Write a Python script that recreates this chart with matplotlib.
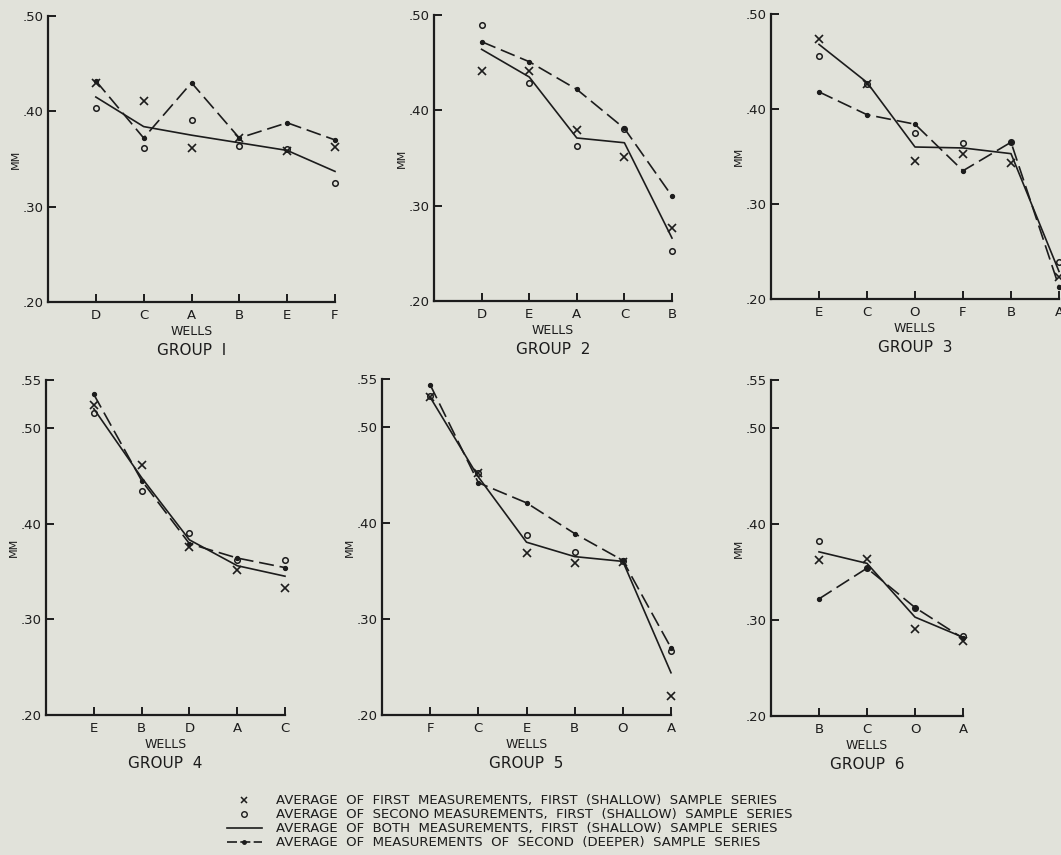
import matplotlib
matplotlib.use("Agg")
import matplotlib.pyplot as plt
from matplotlib.lines import Line2D
from matplotlib.ticker import FuncFormatter

# wells in plotting order for each group
wells = [
    ["D", "C", "A", "B", "E", "F"],
    ["D", "E", "A", "C", "B"],
    ["E", "C", "O", "F", "B", "A"],
    ["E", "B", "D", "A", "C"],
    ["F", "C", "E", "B", "O", "A"],
    ["B", "C", "O", "A"],
]

# x  average of first measurements, first (shallow) series
first = [
    [0.430, 0.411, 0.362, 0.372, 0.358, 0.363],
    [0.441, 0.441, 0.379, 0.351, 0.277],
    [0.474, 0.426, 0.345, 0.353, 0.343, 0.223],
    [0.524, 0.461, 0.376, 0.351, 0.333],
    [0.531, 0.452, 0.369, 0.358, 0.359, 0.220],
    [0.363, 0.364, 0.291, 0.278],
]

# o  average of second measurements, first (shallow) series
second = [
    [0.403, 0.362, 0.391, 0.364, 0.361, 0.325],
    [0.490, 0.429, 0.363, 0.380, 0.252],
    [0.456, 0.426, 0.375, 0.364, 0.365, 0.239],
    [0.515, 0.434, 0.390, 0.362, 0.362],
    [0.532, 0.452, 0.387, 0.370, 0.360, 0.267],
    [0.382, 0.354, 0.313, 0.283],
]

# solid  average of both measurements, first (shallow) series
both = [
    [0.415, 0.384, 0.375, 0.367, 0.359, 0.337],
    [0.464, 0.435, 0.371, 0.366, 0.266],
    [0.468, 0.428, 0.360, 0.359, 0.353, 0.229],
    [0.520, 0.448, 0.383, 0.356, 0.345],
    [0.531, 0.448, 0.380, 0.365, 0.360, 0.244],
    [0.371, 0.359, 0.303, 0.282],
]

# dash-dot  average of measurements of second (deeper) series
deeper = [
    [0.432, 0.372, 0.430, 0.372, 0.388, 0.370],
    [0.472, 0.451, 0.422, 0.381, 0.310],
    [0.418, 0.394, 0.384, 0.335, 0.365, 0.213],
    [0.535, 0.445, 0.379, 0.364, 0.354],
    [0.544, 0.442, 0.421, 0.389, 0.361, 0.270],
    [0.322, 0.354, 0.313, 0.281],
]

group_names = ["GROUP  I", "GROUP  2", "GROUP  3", "GROUP  4", "GROUP  5", "GROUP  6"]
top_ticks = [0.20, 0.30, 0.40, 0.50]
bottom_ticks = [0.20, 0.30, 0.40, 0.50, 0.55]

legend_labels = [
    "AVERAGE  OF  FIRST  MEASUREMENTS,  FIRST  (SHALLOW)  SAMPLE  SERIES",
    "AVERAGE  OF  SECONO MEASUREMENTS,  FIRST  (SHALLOW)  SAMPLE  SERIES",
    "AVERAGE  OF  BOTH  MEASUREMENTS,  FIRST  (SHALLOW)  SAMPLE  SERIES",
    "AVERAGE  OF  MEASUREMENTS  OF  SECOND  (DEEPER)  SAMPLE  SERIES",
]

W, H = 1061, 855
bg = "#e1e2da"
ink = "#1c1c1c"

# axes boxes in pixels: left, top, right, bottom
boxes = [
    (48, 16, 335, 302),
    (434, 15, 672, 301),
    (771, 14, 1059, 299),
    (46, 380, 285, 715),
    (382, 379, 671, 715),
    (771, 380, 963, 716),
]

plt.rcParams["font.family"] = ["DejaVu Sans"]
fig = plt.figure(figsize=(W / 100, H / 100), dpi=100, facecolor=bg)

fmt = FuncFormatter(lambda v, p: f"{v:.2f}"[1:])
dash = (0, (9, 3.5))

for i, (l, t, r, b) in enumerate(boxes):
    ax = fig.add_axes([l / W, 1 - b / H, (r - l) / W, (b - t) / H])
    ax.set_facecolor(bg)
    n = len(wells[i])
    xs = list(range(1, n + 1))

    ax.plot(xs, both[i], color=ink, lw=1.2, clip_on=False)
    ax.plot(xs, deeper[i], color=ink, lw=1.2, linestyle=dash, marker="o",
            markersize=2.8, clip_on=False)
    ax.plot(xs, first[i], linestyle="none", marker="x", color=ink,
            markersize=6, mew=1.2, clip_on=False)
    ax.plot(xs, second[i], linestyle="none", marker="o", markerfacecolor="none",
            markeredgecolor=ink, markersize=4, mew=1.1, clip_on=False)

    ticks = top_ticks if i < 3 else bottom_ticks
    ax.set_ylim(0.20, ticks[-1])
    ax.set_xlim(0, n)
    ax.set_yticks(ticks)
    ax.yaxis.set_major_formatter(fmt)
    ax.set_xticks(xs)
    ax.set_xticklabels(wells[i])

    for side in ["top", "right"]:
        ax.spines[side].set_visible(False)
    for side in ["left", "bottom"]:
        ax.spines[side].set_linewidth(1.6)
        ax.spines[side].set_color(ink)

    ax.tick_params(axis="both", direction="in", length=6, width=1.4, color=ink,
                   labelcolor=ink, labelsize=9.5)
    ax.tick_params(axis="x", pad=5)
    ax.tick_params(axis="y", pad=3)
    ax.set_ylabel("MM", fontsize=8, color=ink, va="center")
    ax.yaxis.set_label_coords(-32 / (r - l), 0.5)

    ax.annotate("WELLS", xy=(0.5, 0), xycoords="axes fraction", xytext=(0, -21),
                textcoords="offset points", ha="center", va="center",
                fontsize=9, color=ink)
    ax.annotate(group_names[i], xy=(0.5, 0), xycoords="axes fraction", xytext=(0, -35),
                textcoords="offset points", ha="center", va="center",
                fontsize=11, color=ink)

handles = [
    Line2D([], [], linestyle="none", marker="x", color=ink, markersize=4.5, mew=1.1),
    Line2D([], [], linestyle="none", marker="o", markerfacecolor="none",
           markeredgecolor=ink, markersize=4, mew=1.0),
    Line2D([], [], color=ink, lw=1.2),
    Line2D([], [], color=ink, lw=1.2, linestyle=(0, (6, 2)), marker="o", markersize=2.5,
           markevery=[1]),
]
fig.legend(handles, legend_labels, loc="upper left", bbox_to_anchor=(222 / W, 1 - 789 / H),
           frameon=False, fontsize=9.5, handlelength=2.6, handletextpad=1.1,
           labelspacing=0.08, labelcolor=ink, borderaxespad=0)

fig.savefig("out.png", dpi=100, facecolor=bg)
